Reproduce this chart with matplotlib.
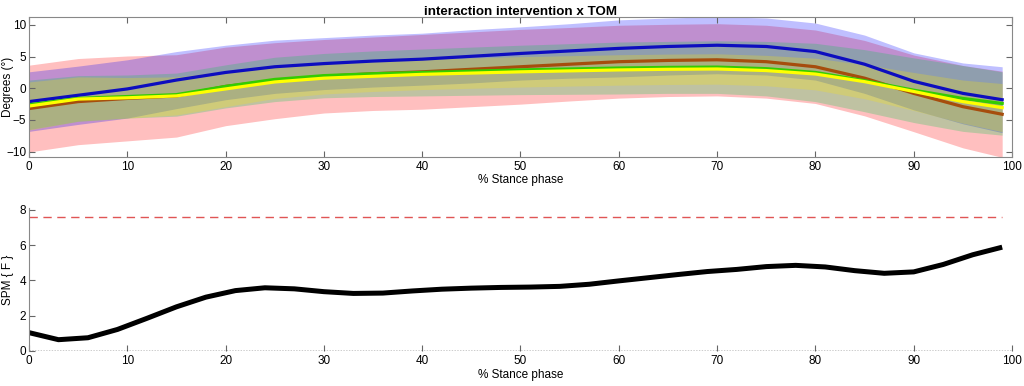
import matplotlib
matplotlib.use("Agg")
import matplotlib.pyplot as plt
import numpy as np

plt.rcParams['font.family'] = ['Liberation Sans', 'DejaVu Sans']

# ---------------- data ----------------
phase = [0, 5, 10, 15, 20, 25, 30, 35, 40, 45, 50, 55, 60, 65, 70, 75, 80, 85, 90, 95, 99]

blue_mean = [-2.1, -1.1, -0.1, 1.3, 2.5, 3.4, 3.9, 4.3, 4.6, 5.05, 5.5, 5.9, 6.3, 6.6, 6.8, 6.6, 5.8, 3.8, 1.1, -0.8, -1.8]
blue_sd = [4.7, 4.6, 4.6, 4.5, 4.3, 4.2, 4.1, 4.1, 4.1, 4.2, 4.2, 4.3, 4.5, 4.5, 4.5, 4.5, 4.5, 4.6, 4.5, 4.8, 5.2]

brown_mean = [-3.2, -2.1, -1.6, -1.2, 0.3, 1.2, 1.9, 2.3, 2.6, 3.0, 3.4, 3.8, 4.2, 4.4, 4.5, 4.2, 3.4, 1.6, -0.8, -2.9, -4.1]
red_sd = [6.85, 6.8, 6.7, 6.5, 6.2, 6.0, 5.8, 5.8, 5.9, 5.9, 5.9, 5.8, 5.75, 5.7, 5.7, 5.75, 5.8, 5.95, 6.05, 6.5, 6.8]

green_mean = [-2.6, -1.6, -1.3, -1.0, 0.3, 1.4, 2.0, 2.3, 2.5, 2.7, 2.9, 3.05, 3.2, 3.3, 3.35, 3.1, 2.5, 1.2, -0.3, -1.6, -2.4]
green_sd = [3.9, 3.6, 3.4, 3.4, 3.4, 3.5, 3.5, 3.6, 3.7, 3.8, 3.9, 4.0, 4.1, 4.1, 4.15, 4.3, 4.6, 4.9, 5.1, 5.2, 5.0]

yellow_mean = [-2.8, -1.7, -1.5, -1.2, -0.1, 1.0, 1.6, 1.9, 2.2, 2.4, 2.6, 2.75, 2.9, 3.0, 3.05, 2.8, 2.25, 1.05, -0.5, -2.1, -3.05]
yellow_sd = [3.8, 3.5, 3.2, 3.0, 2.8, 2.6, 2.5, 2.4, 2.4, 2.4, 2.4, 2.4, 2.4, 2.4, 2.4, 2.4, 2.5, 2.7, 3.0, 3.4, 3.8]

spm_phase = [0, 3, 6, 9, 12, 15, 18, 21, 24, 27, 30, 33, 36, 39, 42, 45, 48, 51, 54, 57,
             60, 63, 66, 69, 72, 75, 78, 81, 84, 87, 90, 93, 96, 99]
spm_f = [1.04, 0.64, 0.75, 1.22, 1.85, 2.5, 3.05, 3.42, 3.58, 3.52, 3.36, 3.26, 3.28, 3.4, 3.5, 3.56, 3.6, 3.62, 3.66, 3.78,
         3.97, 4.15, 4.33, 4.5, 4.62, 4.78, 4.85, 4.76, 4.55, 4.4, 4.48, 4.9, 5.45, 5.88]
threshold = 7.6

x_ticks = [0, 10, 20, 30, 40, 50, 60, 70, 80, 90, 100]
top_yticks = [-10, -5, 0, 5, 10]
bot_yticks = [0, 2, 4, 6, 8]

# ---------------- figure ----------------
fig = plt.figure(figsize=(10.24, 3.86), dpi=100)
ax1 = fig.add_axes([0.0283, 0.594, 0.960, 0.3627])
ax2 = fig.add_axes([0.0283, 0.0907, 0.960, 0.3705])

x = np.array(phase)
groups = [
    (brown_mean, red_sd, (1, 0, 0)),
    (blue_mean, blue_sd, (0, 0, 1)),
    (green_mean, green_sd, (0, 0.8, 0.3)),
    (yellow_mean, yellow_sd, (1, 0.9, 0)),
]
for m, s, c in groups:
    m = np.array(m); s = np.array(s)
    ax1.fill_between(x, m - s, m + s, color=c, alpha=0.25, lw=0)

ax1.plot(x, blue_mean, color=(0.05, 0.05, 0.75), lw=2.3)
ax1.plot(x, brown_mean, color=(0.65, 0.3, 0.05), lw=2.3)
ax1.plot(x, green_mean, color=(0.2, 0.8, 0.0), lw=2.3)
ax1.plot(x, yellow_mean, color=(1.0, 1.0, 0.0), lw=2.3)

ax1.set_xlim(0, 100)
ax1.set_ylim(-10.8, 11.3)
ax1.set_xticks(x_ticks)
ax1.set_yticks(top_yticks)
ax1.tick_params(direction='in', length=4, width=0.8, color='#666666', labelsize=8.5,
                top=True, right=True, pad=3)
ax1.tick_params(axis='y', pad=2)
for sp in ax1.spines.values():
    sp.set_color('#888888')
    sp.set_linewidth(0.8)
ax1.set_title('interaction intervention x TOM', fontsize=9.6, fontweight='bold', pad=1.5)
ax1.set_xlabel('% Stance phase', fontsize=8.5, labelpad=1)
ax1.set_ylabel('Degrees (°)', fontsize=8.5)
ax1.yaxis.set_label_coords(-0.0153, 0.5)

# bottom panel
ax2.plot(spm_phase, spm_f, color='black', lw=3.6, solid_capstyle='butt')
ax2.plot([spm_phase[0], spm_phase[-1]], [threshold, threshold], color='#e05555', lw=1.0,
         dashes=(6, 4))
ax2.axhline(0, color='black', lw=1.0, ls=(0, (1, 1)))
ax2.set_xlim(0, 100)
ax2.set_ylim(0, 8.1)
ax2.set_xticks(x_ticks)
ax2.set_yticks(bot_yticks)
for name in ['top', 'right', 'bottom']:
    ax2.spines[name].set_visible(False)
ax2.spines['left'].set_color('#888888')
ax2.spines['left'].set_linewidth(0.8)
ax2.tick_params(direction='in', length=4, width=0.8, color='#666666', labelsize=8.5, pad=3)
ax2.tick_params(axis='y', pad=2)
ax2.set_xlabel('% Stance phase', fontsize=8.5, labelpad=1)
ax2.set_ylabel('SPM { F }', fontsize=8.5)
ax2.yaxis.set_label_coords(-0.0153, 0.5)

fig.savefig('out.png', dpi=100)
